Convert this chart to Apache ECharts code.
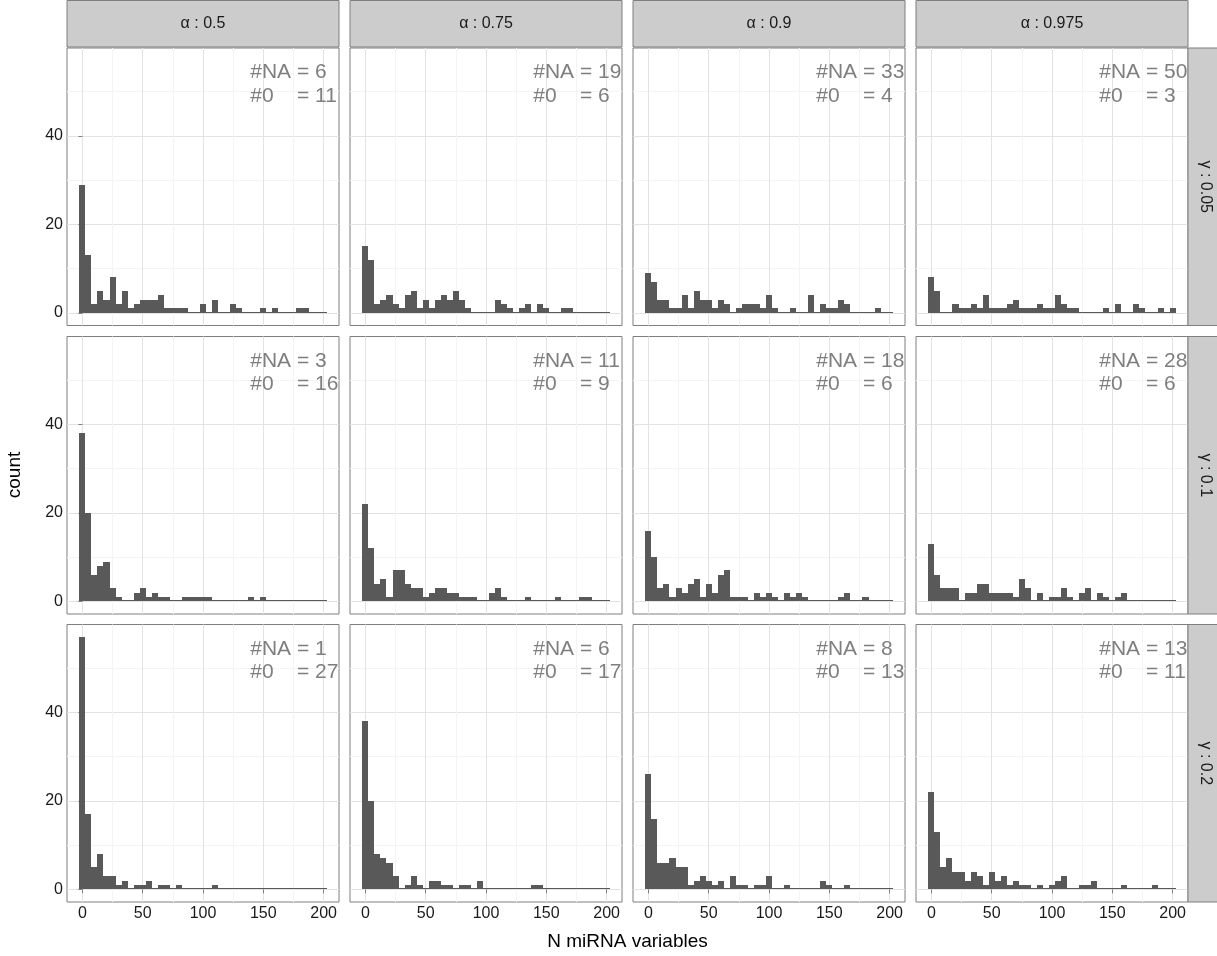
<!DOCTYPE html>
<html><head><meta charset="utf-8">
<script src="https://cdn.jsdelivr.net/npm/echarts@6/dist/echarts.min.js"></script>
<style>html,body{margin:0;padding:0;background:#fff}#c{width:1217px;height:956px}</style>
</head><body><div id="c"></div>
<script>
// ---- data ----
const alphaLevels = ['0.5', '0.75', '0.9', '0.975'];
const gammaLevels = ['0.05', '0.1', '0.2'];
const binWidth = 5;
const binCenters = [0,5,10,15,20,25,30,35,40,45,50,55,60,65,70,75,80,85,90,95,100,105,110,115,120,125,130,135,140,145,150,155,160,165,170,175,180,185,190,195,200];
const xTicks = [0, 50, 100, 150, 200];
const yTicks = [0, 20, 40];
const naCounts   = [[6, 19, 33, 50], [3, 11, 18, 28], [1, 6, 8, 13]];
const zeroCounts = [[11, 6, 4, 3], [16, 9, 6, 6], [27, 17, 13, 11]];

const g005_a050  = [29,13,2,5,3,8,2,5,1,2, 3,3,3,4,1,1,1,1,0,0, 2,0,3,0,0,2,1,0,0,0, 1,0,1,0,0,0,1,1,0,0, 0];
const g005_a075  = [15,12,2,3,4,2,1,4,5,1, 3,1,3,4,3,5,3,1,0,0, 0,0,3,2,1,0,1,2,0,2, 1,0,0,1,1,0,0,0,0,0, 0];
const g005_a090  = [9,7,3,3,1,1,4,1,5,3, 3,1,3,2,0,1,2,2,2,1, 4,1,0,0,1,0,0,4,0,2, 1,1,3,2,0,0,0,0,1,0, 0];
const g005_a0975 = [8,5,0,0,2,1,1,2,1,4, 1,1,1,2,3,1,1,1,2,1, 1,4,2,1,1,0,0,0,0,1, 0,2,0,0,2,1,0,0,1,0, 1];
const g010_a050  = [38,20,6,8,9,3,1,0,0,2, 3,1,2,1,1,0,0,1,1,1, 1,1,0,0,0,0,0,0,1,0, 1,0,0,0,0,0,0,0,0,0, 0];
const g010_a075  = [22,12,4,5,1,7,7,4,3,3, 1,2,3,3,2,2,1,1,1,0, 0,2,3,1,0,0,0,1,0,0, 0,0,1,0,0,0,1,1,0,0, 0];
const g010_a090  = [16,10,3,4,1,3,2,4,5,1, 4,2,6,7,1,1,1,0,2,1, 2,1,0,2,1,2,1,0,0,0, 0,0,1,2,0,0,1,0,0,0, 0];
const g010_a0975 = [13,6,3,3,3,0,2,2,4,4, 2,2,2,2,1,5,3,0,2,0, 1,1,3,1,0,2,3,0,2,1, 0,1,2,0,0,0,0,0,0,0, 0];
const g020_a050  = [57,17,5,8,3,3,1,2,0,1, 1,2,0,1,1,0,1,0,0,0, 0,0,1,0,0,0,0,0,0,0, 0,0,0,0,0,0,0,0,0,0, 0];
const g020_a075  = [38,20,8,7,6,3,0,1,3,1, 0,2,2,1,1,0,1,1,0,2, 0,0,0,0,0,0,0,0,1,1, 0,0,0,0,0,0,0,0,0,0, 0];
const g020_a090  = [26,16,6,6,7,5,5,1,2,3, 2,1,2,0,3,1,1,0,1,1, 3,0,0,1,0,0,0,0,0,2, 1,0,0,1,0,0,0,0,0,0, 0];
const g020_a0975 = [22,13,5,7,4,4,2,4,3,1, 4,2,3,1,2,1,1,0,1,0, 1,2,3,0,0,1,1,2,0,0, 0,0,1,0,0,0,0,1,0,0, 0];

const countsGrid = [
  [g005_a050, g005_a075, g005_a090, g005_a0975],
  [g010_a050, g010_a075, g010_a090, g010_a0975],
  [g020_a050, g020_a075, g020_a090, g020_a0975]
];
// annotation anchor (data units, like ggplot annotate)
const annotX = 140, annotY = 57;

// ---- layout ----
const FONT = '"Liberation Sans", Arial, Helvetica, sans-serif';
const colLeft = [67, 350, 633, 916];
const panelW = 272;
const rowTop = [48, 336.5, 624.5];
const panelH = 277.5;
const BAR = '#595959';

const xLo = binCenters[0] - binWidth / 2, xHi = binCenters[binCenters.length - 1] + binWidth / 2;
const xPad = 0.05 * (xHi - xLo);
let yMaxData = 0;
countsGrid.forEach(r => r.forEach(a => a.forEach(v => { if (v > yMaxData) yMaxData = v; })));
const yPad = 0.05 * yMaxData;

const grids = [], xAxes = [], yAxes = [], series = [], graphics = [];
let gi = 0;
for (let r = 0; r < 3; r++) {
  for (let c = 0; c < 4; c++) {
    grids.push({left: colLeft[c], top: rowTop[r], width: panelW, height: panelH,
      show: true, backgroundColor: '#fff', borderColor: '#7f7f7f', borderWidth: 1, containLabel: false});
    const bottomRow = r === 2, leftCol = c === 0;
    xAxes.push({gridIndex: gi, type: 'value', min: xLo - xPad, max: xHi + xPad,
      axisLine: {show: false},
      axisTick: {show: bottomRow, length: 4, lineStyle: {color: '#7f7f7f'}, customValues: xTicks},
      axisLabel: {show: bottomRow, customValues: xTicks, margin: 4, color: '#1a1a1a', fontSize: 16, fontFamily: FONT},
      splitLine: {show: true, lineStyle: {color: '#e3e3e3', width: 1}},
      minorTick: {show: false, splitNumber: 2},
      minorSplitLine: {show: true, lineStyle: {color: '#f4f4f4', width: 1}}
    });
    yAxes.push({gridIndex: gi, type: 'value', min: -yPad, max: yMaxData + yPad, splitNumber: 3,
      axisLine: {show: false},
      axisTick: {show: leftCol, length: 4, lineStyle: {color: '#7f7f7f'}, customValues: yTicks},
      axisLabel: {show: leftCol, customValues: yTicks, margin: 4, color: '#1a1a1a', fontSize: 16, fontFamily: FONT},
      splitLine: {show: true, lineStyle: {color: '#e3e3e3', width: 1}},
      minorTick: {show: false, splitNumber: 2},
      minorSplitLine: {show: true, lineStyle: {color: '#f4f4f4', width: 1}}
    });
    const counts = countsGrid[r][c];
    series.push({
      type: 'custom', xAxisIndex: gi, yAxisIndex: gi, clip: true,
      data: binCenters.map((b, i) => [b, counts[i]]),
      renderItem: function (params, api) {
        const x = api.value(0), y = api.value(1);
        const p0 = api.coord([x - binWidth / 2, 0]);
        const p1 = api.coord([x + binWidth / 2, y]);
        const x0 = Math.round(p0[0]), x1 = Math.round(p1[0]);
        const yb = Math.round(p0[1]), yt = Math.round(p1[1]);
        const h = yb - yt;
        return {type: 'rect',
          shape: {x: x0, y: h > 0 ? yt : yb - 1, width: x1 - x0, height: h > 0 ? h : 1},
          style: {fill: BAR}};
      }
    });
    const label = '#NA = ' + naCounts[r][c] + '\n#0    = ' + zeroCounts[r][c];
    series.push({
      type: 'custom', xAxisIndex: gi, yAxisIndex: gi, clip: true, silent: true, z: 5,
      data: [[annotX, annotY]],
      renderItem: function (params, api) {
        const p = api.coord([api.value(0), api.value(1)]);
        return {type: 'text', x: p[0] - 1, y: p[1],
          style: {text: label, fill: '#7f7f7f', font: '21px ' + FONT, align: 'left', verticalAlign: 'top', lineHeight: 23.5}};
      }
    });
    gi++;
  }
}
// top strips
for (let c = 0; c < 4; c++) {
  graphics.push({type: 'rect', shape: {x: colLeft[c], y: 0.5, width: panelW, height: 46.5},
    style: {fill: '#cccccc', stroke: '#7f7f7f', lineWidth: 1}, z: 10});
  graphics.push({type: 'text', x: colLeft[c] + panelW / 2, y: 24,
    style: {text: 'α : ' + alphaLevels[c], fill: '#1a1a1a', font: '16px ' + FONT, align: 'center', verticalAlign: 'middle'}, z: 11});
}
// right strips
for (let r = 0; r < 3; r++) {
  graphics.push({type: 'rect', shape: {x: colLeft[3] + panelW, y: rowTop[r], width: 40, height: panelH},
    style: {fill: '#cccccc', stroke: '#7f7f7f', lineWidth: 1}, z: 10});
  graphics.push({type: 'text', x: 1205, y: rowTop[r] + panelH / 2, rotation: -Math.PI / 2,
    style: {text: 'γ : ' + gammaLevels[r], fill: '#1a1a1a', font: '16px ' + FONT, align: 'center', verticalAlign: 'middle'}, z: 11});
}
// axis titles
graphics.push({type: 'text', x: (colLeft[0] + colLeft[3] + panelW) / 2, y: 942,
  style: {text: 'N miRNA variables', fill: '#000', font: '19px ' + FONT, align: 'center', verticalAlign: 'middle'}});
graphics.push({type: 'text', x: 15, y: (rowTop[0] + rowTop[2] + panelH) / 2, rotation: Math.PI / 2,
  style: {text: 'count', fill: '#000', font: '19px ' + FONT, align: 'center', verticalAlign: 'middle'}});

const chart = echarts.init(document.getElementById('c'), null, {renderer: 'canvas'});
chart.setOption({
  animation: false,
  backgroundColor: '#fff',
  grid: grids, xAxis: xAxes, yAxis: yAxes, series: series, graphic: graphics
});
</script></body></html>
